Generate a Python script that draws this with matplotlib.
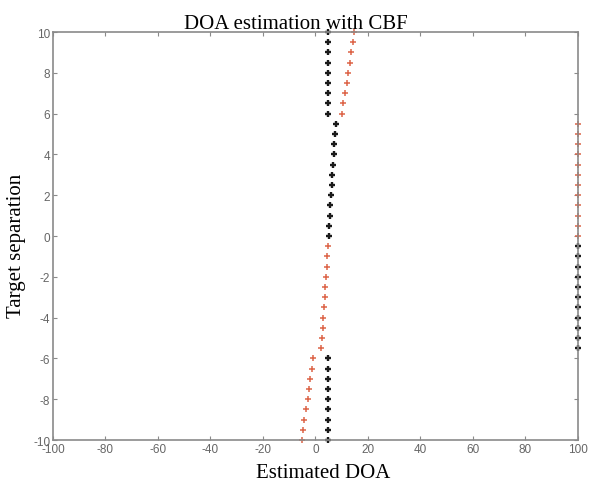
import matplotlib
matplotlib.use("Agg")
import matplotlib.pyplot as plt

plt.rcParams["axes.unicode_minus"] = False

# target separation (deg), one run per value
separation = [-10, -9.5, -9, -8.5, -8, -7.5, -7, -6.5, -6,
              -5.5, -5, -4.5, -4, -3.5, -3, -2.5, -2, -1.5, -1, -0.5,
              0, 0.5, 1, 1.5, 2, 2.5, 3, 3.5, 4, 4.5, 5, 5.5,
              6, 6.5, 7, 7.5, 8, 8.5, 9, 9.5, 10]

# first estimated DOA (100 = no peak found)
doa_first = [4.9, 4.9, 4.9, 4.9, 4.9, 4.9, 4.9, 4.9, 4.9,
             100, 100, 100, 100, 100, 100, 100, 100, 100, 100, 100,
             5.0, 5.25, 5.5, 5.75, 6.0, 6.25, 6.5, 6.75, 7.0, 7.25, 7.5, 7.75,
             4.9, 4.9, 4.9, 4.9, 4.9, 4.9, 4.9, 4.9, 4.9]

# second estimated DOA
doa_second = [-5.3, -4.7, -4.2, -3.6, -3.0, -2.4, -1.9, -1.3, -0.8,
              2.25, 2.5, 2.75, 3.0, 3.25, 3.5, 3.75, 4.0, 4.25, 4.5, 4.75,
              100, 100, 100, 100, 100, 100, 100, 100, 100, 100, 100, 100,
              10.1, 10.7, 11.3, 11.9, 12.5, 13.1, 13.7, 14.2, 14.8]

serif = "Liberation Serif"
sans = "Liberation Sans"
axis_grey = "#8a8a8a"
tick_grey = "#666666"

fig = plt.figure(figsize=(5.89, 4.89), dpi=100)
ax = fig.add_axes([0.09, 0.098, 0.891, 0.8345])

ax.plot(doa_first, separation, "+", color="#1a1a1a", markersize=5,
        markeredgewidth=1.7, clip_on=False)
ax.plot(doa_second, separation, "+", color="#dd6448", markersize=5,
        markeredgewidth=1.1, clip_on=False)

ax.set_xlim(-100, 100)
ax.set_ylim(-10, 10)
ax.set_xticks(range(-100, 101, 20))
ax.set_yticks(range(-10, 11, 2))

ax.tick_params(direction="in", top=True, right=True, length=3, width=0.8,
               color=axis_grey, labelcolor=tick_grey, labelsize=8.5, pad=2)
for lab in ax.get_xticklabels() + ax.get_yticklabels():
    lab.set_fontfamily(sans)
for sp in ax.spines.values():
    sp.set_color(axis_grey)
    sp.set_linewidth(1.2)

ax.set_title("DOA estimation with CBF", fontfamily=serif, fontsize=15,
             pad=3, x=0.463)
ax.set_xlabel("Estimated DOA", fontfamily=serif, fontsize=15)
ax.xaxis.set_label_coords(0.514, -0.055)
ax.set_ylabel("Target separation", fontfamily=serif, fontsize=15)
ax.yaxis.set_label_coords(-0.051, 0.478)

fig.savefig("out.png", dpi=100)
